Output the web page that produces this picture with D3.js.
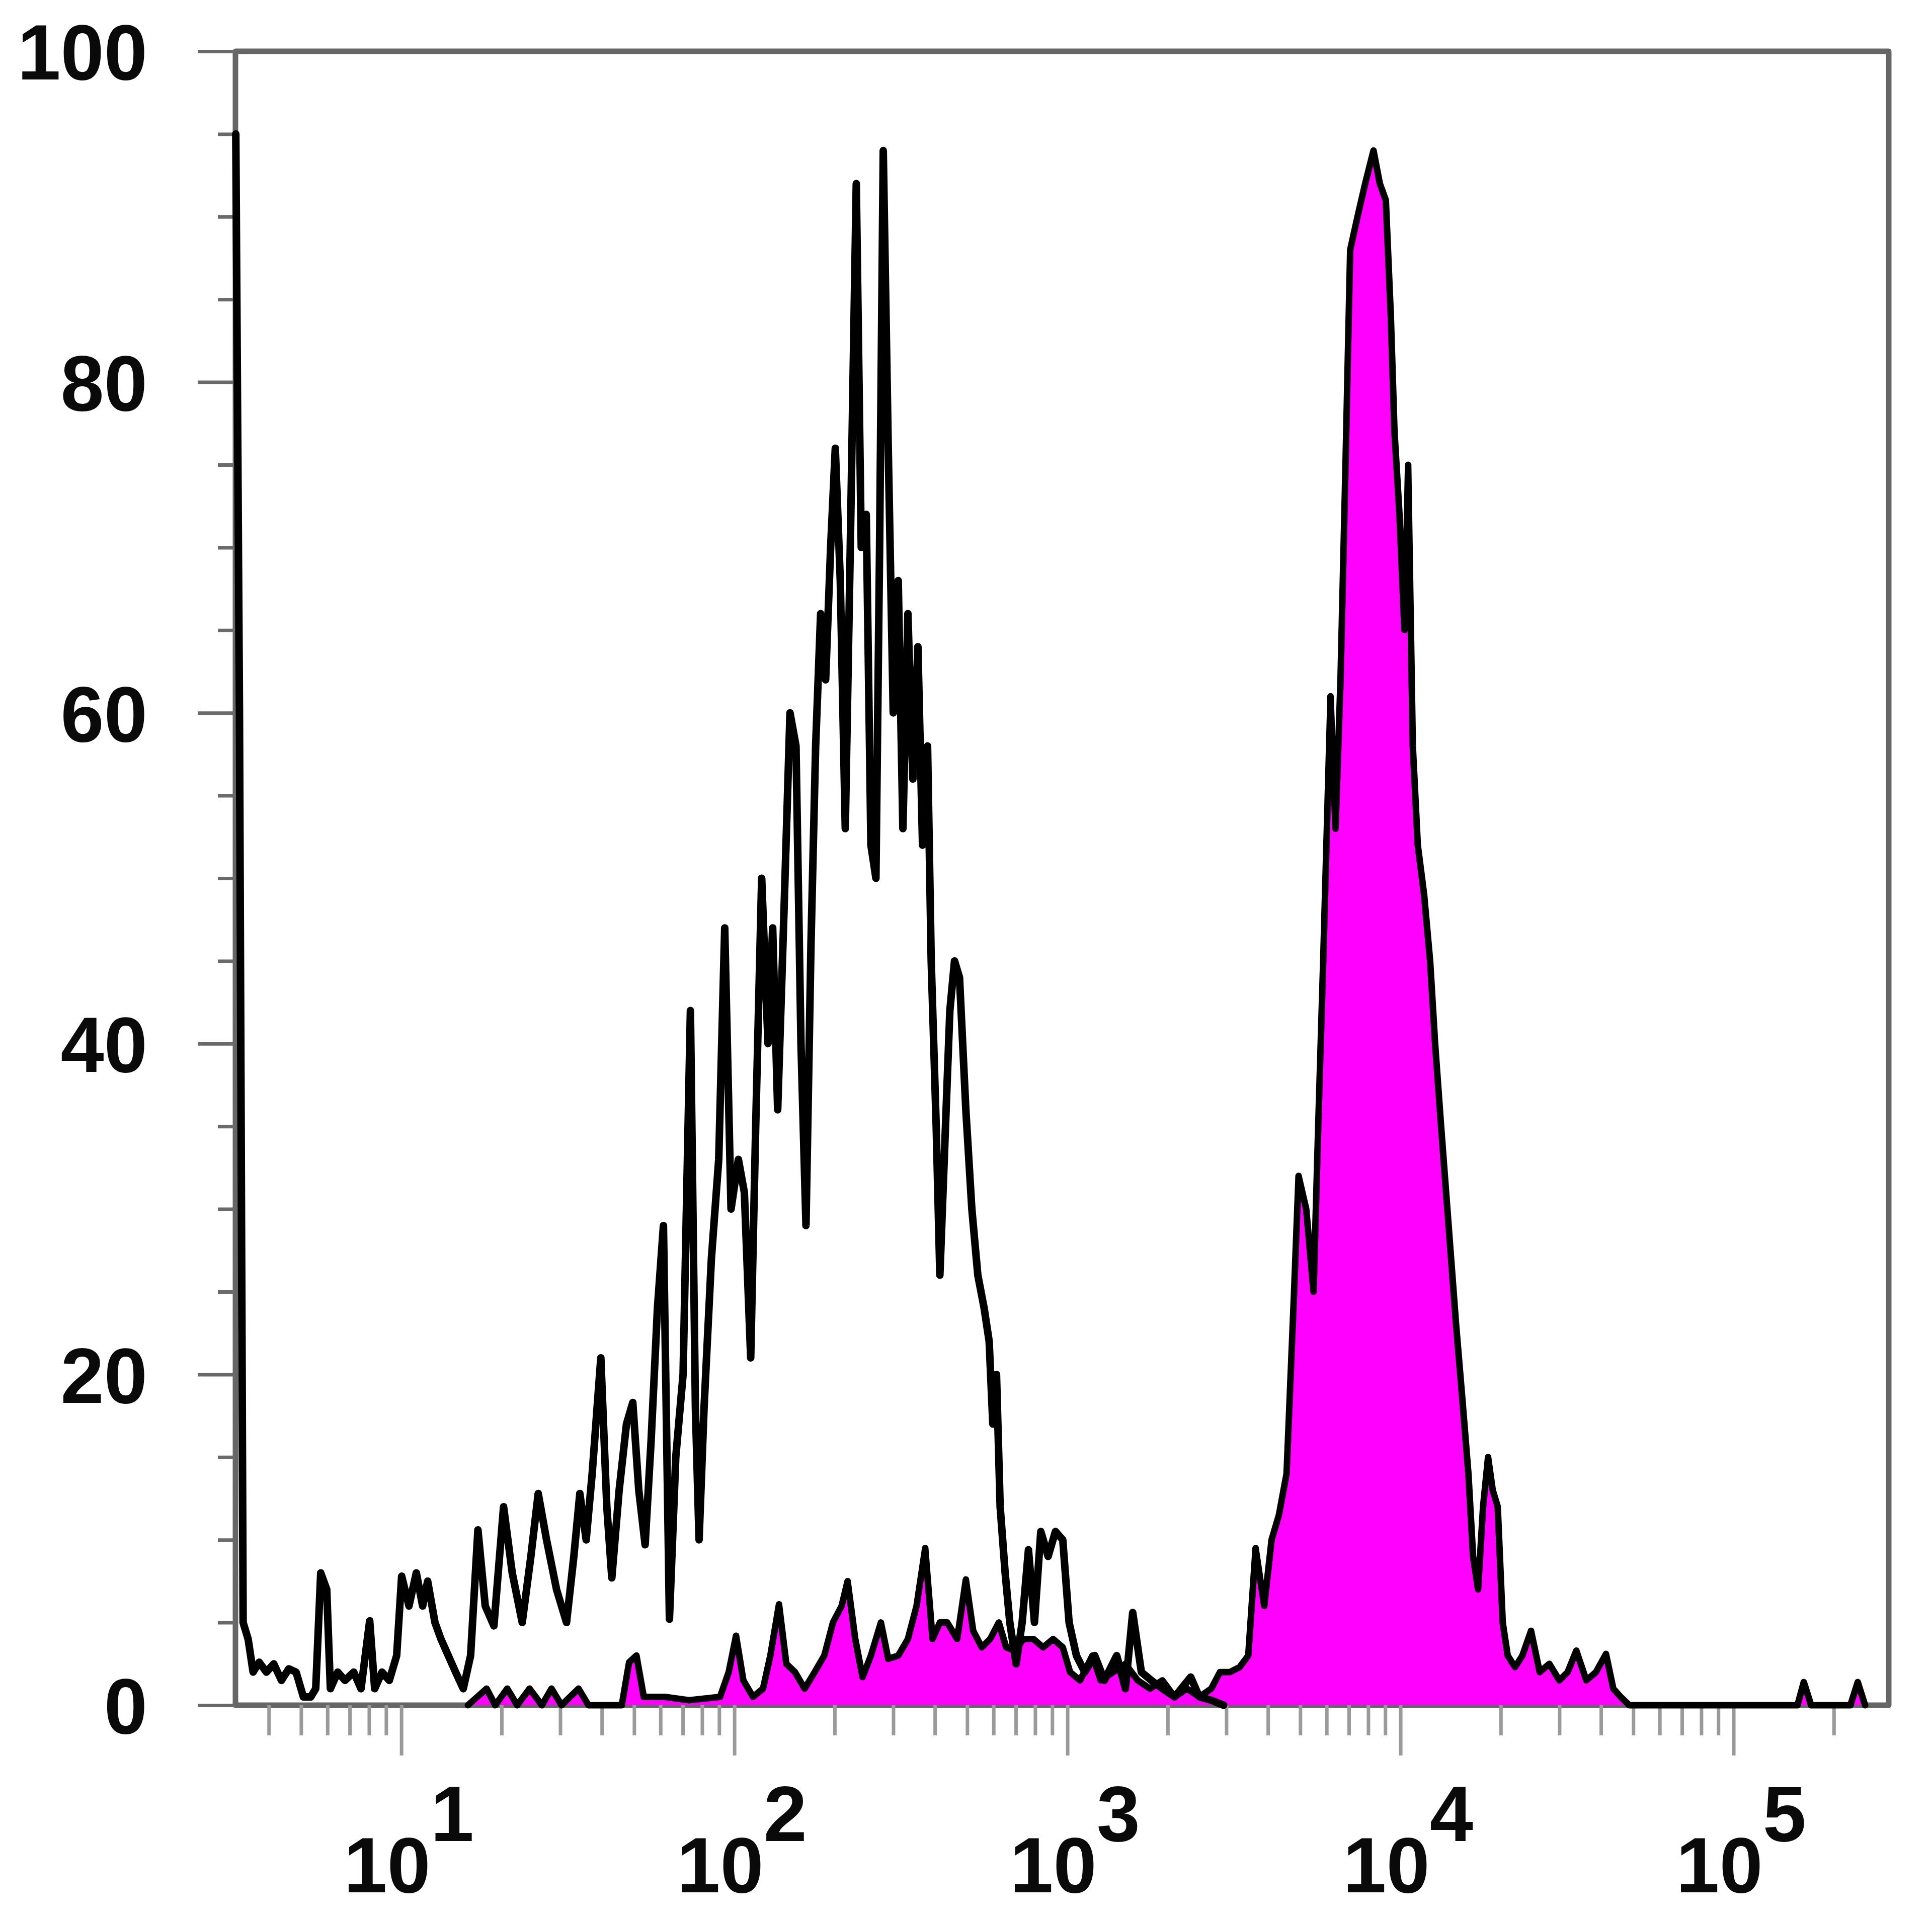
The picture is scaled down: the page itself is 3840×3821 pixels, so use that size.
<!DOCTYPE html>
<html>
<head>
<meta charset="utf-8">
<script src="https://cdn.jsdelivr.net/npm/d3@7"></script>
<style>
  html, body { margin: 0; padding: 0; background: #ffffff; }
  svg { display: block; }
</style>
</head>
<body>
<script>
// ---------------- DATA ----------------
// Control (unfilled black outline): log10 fluorescence, % of max
const controlLogFI = [0.503,0.514,0.525,0.540,0.555,0.573,0.595,0.617,0.640,0.662,0.684,0.706,0.728,0.743,0.758,0.776,0.787,0.809,0.831,0.857,0.879,0.905,0.920,0.942,0.964,0.986,
  1.001,1.023,1.045,1.064,1.079,1.101,1.119,1.141,1.163,1.186,1.208,1.230,1.252,1.278,1.307,1.333,1.363,1.389,1.411,1.436,1.466,1.496,1.518,1.536,1.555,1.573,1.599,1.617,1.632,1.654,1.676,1.695,1.713,1.732,1.750,1.769,1.787,1.805,1.824,1.846,1.868,1.883,1.894,1.909,1.931,1.953,1.971,1.990,
  2.012,2.030,2.049,2.064,2.082,2.101,2.115,2.130,2.149,2.167,2.185,2.200,2.215,2.230,2.244,2.259,2.274,2.289,2.303,2.318,2.333,2.348,2.366,2.381,2.396,2.410,2.425,2.436,2.447,2.462,2.477,2.492,2.506,2.521,2.536,2.551,2.565,2.580,2.591,2.606,2.617,2.632,2.647,2.661,2.676,2.695,2.713,2.731,2.750,2.765,2.776,2.787,2.798,2.813,2.827,2.846,2.864,2.883,2.901,2.920,2.942,2.964,2.986,
  3.005,3.027,3.052,3.082,3.111,3.148,3.174,3.196,3.222,3.252,3.285,3.322,3.370,3.396,3.432,3.469];
const controlCount = [95,60,5,4,2,2.6,2,2.5,1.5,2.2,2,0.5,0.5,1,8,7,1,2,1.5,2,1,5.1,1,2,1.5,3,
  7.8,6,8,6,7.5,5,4,3,2,1,3,10.6,6,4.8,12,8,5,9,12.8,10,7,5,9,12.8,10,14,21,12,7.7,13,17,18.3,13,9.7,16,24,29,5.2,15,20,42,18,10,18,27,33,47,30,
  33,31,21,35,50,40,47,36,48,60,58,40,29,46,58,66,62,70,76,68,53,70,92,70,72,52,50,70,94,76,60,68,53,66,56,64,52,58,45,35,26,34,42,45,44,36,30,26,24,22,17,20,12,8,5,2.5,5,9.4,5,10.5,9,10.5,10,
  5,3,2,3,1.5,3,1,5.6,2,1.5,1,0.5,1.7,0.5,0.3,0];

// Stained sample (magenta filled): log10 fluorescence, % of max
const stainedLogFI = [1.200,1.256,1.282,1.318,1.348,1.385,1.422,1.451,1.481,1.532,1.562,1.662,1.684,1.706,1.728,1.791,1.864,1.957,1.983,
  2.005,2.027,2.056,2.086,2.108,2.134,2.156,2.182,2.211,2.241,2.270,2.296,2.322,2.340,2.363,2.385,2.410,2.440,2.462,2.492,2.521,2.547,2.573,2.595,2.617,2.639,2.669,2.695,2.717,2.743,2.768,2.794,2.816,2.842,2.868,2.898,2.927,2.957,2.986,
  3.008,3.038,3.075,3.100,3.137,3.174,3.211,3.248,3.285,3.322,3.359,3.396,3.432,3.458,3.488,3.517,3.543,3.565,3.591,3.613,3.635,3.658,3.680,3.694,3.717,3.739,3.753,3.768,3.790,3.805,3.820,3.835,3.849,3.871,3.894,3.919,3.938,3.956,3.971,3.982,3.997,
  4.012,4.023,4.037,4.052,4.071,4.089,4.104,4.122,4.137,4.152,4.167,4.185,4.204,4.218,4.233,4.248,4.263,4.277,4.292,4.307,4.322,4.344,4.366,4.392,4.418,4.447,4.477,4.502,4.528,4.558,4.587,4.617,4.639,4.661,4.687,
  5.192,5.211,5.233,5.351,5.373,5.395];
const stainedCount = [0,1,0,1,0,1,0,1,0,1,0,0,2.6,3,0.5,0.5,0.3,0.5,2,
  4.2,1.5,0.5,1,3,6.1,2.5,2,1,2,3,5,6,7.5,4,1.7,3,5,2.8,3,4,6,9.5,4,5,5,4,7.6,4.5,3.5,4,5,3.5,3.3,4,4,3.5,4,3.5,
  2,1.5,3,1.5,2,2.5,1.5,1,1.5,0.5,1,0.5,1,2,2,2.3,3,9.5,6,10,11.5,14,24.7,32,30,25,35,45,61,53,62,75,88,90,92,94,92,91,84,77,72,
  65,75,58,52,49,45,40,35,31,27,23,18.7,14,9,7,12,15,13,12,5,3,2.3,3,4.5,2,2.5,1.5,2,3.3,1.5,2,3.1,1,0.5,0,
  0,1.4,0,0,1.4,0];

// Axis ticks
const yTicks = [0, 20, 40, 60, 80, 100];
const xDecades = [1, 2, 3, 4, 5];
const xBaseLabel = "10";

(function () {
  // ---------------- LAYOUT ----------------
  const W = 3840, H = 3821;
  const pL = 468, pR = 3754, pT = 102, pB = 3390;

  const svg = d3.select("body").append("svg")
    .attr("width", W).attr("height", H)
    .attr("viewBox", `0 0 ${W} ${H}`);

  svg.append("rect").attr("width", W).attr("height", H).attr("fill", "#ffffff");

  const x = d3.scaleLog()
    .domain([Math.pow(10, 0.502), Math.pow(10, 5.466)])
    .range([pL, pR]);
  const y = d3.scaleLinear().domain([0, 100]).range([pB, pT]);

  const fontFamily = "'Liberation Sans', Arial, Helvetica, sans-serif";

  // Frame
  svg.append("rect")
    .attr("x", pL).attr("y", pT)
    .attr("width", pR - pL).attr("height", pB - pT)
    .attr("fill", "none").attr("stroke", "#666666").attr("stroke-width", 11)
    .attr("stroke-linejoin", "round");

  // Y axis: minor + major ticks
  const yMinor = d3.range(5, 100, 5).filter(v => v % 20 !== 0);
  const gyMinor = svg.append("g").attr("transform", `translate(${pL},0)`)
    .call(d3.axisLeft(y).tickValues(yMinor).tickSize(35).tickFormat(""));
  const gyMajor = svg.append("g").attr("transform", `translate(${pL},0)`)
    .call(d3.axisLeft(y).tickValues(yTicks).tickSize(75).tickPadding(100).tickFormat(d3.format("d")));
  [gyMinor, gyMajor].forEach(g => {
    g.select(".domain").remove();
    g.selectAll(".tick line").attr("stroke", "#6a6a6a").attr("stroke-width", 7);
  });
  gyMajor.selectAll(".tick text")
    .attr("font-family", fontFamily).attr("font-weight", "bold")
    .attr("font-size", 155).attr("fill", "#0a0a0a")
    .attr("dy", "0.36em");

  // X axis: minor + major ticks
  const xMinorVals = [];
  [0, 1, 2, 3, 4, 5].forEach(e => {
    [2, 3, 4, 5, 6, 7, 8, 9].forEach(k => {
      const v = k * Math.pow(10, e);
      if (v > x.domain()[0] && v < x.domain()[1]) xMinorVals.push(v);
    });
  });
  const gxMinor = svg.append("g").attr("transform", `translate(0,${pB})`)
    .call(d3.axisBottom(x).tickValues(xMinorVals).tickSize(60).tickFormat(""));
  const gxMajor = svg.append("g").attr("transform", `translate(0,${pB})`)
    .call(d3.axisBottom(x).tickValues(xDecades.map(e => Math.pow(10, e))).tickSize(100).tickFormat(""));
  [gxMinor, gxMajor].forEach(g => {
    g.select(".domain").remove();
    g.selectAll(".tick line").attr("stroke", "#9a9a9a").attr("stroke-width", 7);
  });

  // X labels 10^n
  const xl = svg.append("g");
  xDecades.forEach(e => {
    const t = xl.append("text")
      .attr("x", x(Math.pow(10, e)) + 15)
      .attr("y", 3762)
      .attr("text-anchor", "middle")
      .attr("font-family", fontFamily).attr("font-weight", "bold")
      .attr("font-size", 155).attr("fill", "#0a0a0a");
    t.append("tspan").text(xBaseLabel);
    t.append("tspan").attr("dy", -102).text(String(e));
  });

  // ---------------- DATA MARKS ----------------
  const control = controlLogFI.map((l, i) => ({ l, c: controlCount[i] }));
  const stained = stainedLogFI.map((l, i) => ({ l, c: stainedCount[i] }));

  const area = d3.area()
    .x(d => x(Math.pow(10, d.l)))
    .y0(y(0))
    .y1(d => y(d.c));
  const line = d3.line()
    .x(d => x(Math.pow(10, d.l)))
    .y(d => y(d.c));

  svg.append("path").datum(stained)
    .attr("d", area)
    .attr("fill", "#ff00ff");

  svg.append("path").datum(control)
    .attr("d", line)
    .attr("fill", "none").attr("stroke", "#000000")
    .attr("stroke-width", 15).attr("stroke-linejoin", "round").attr("stroke-linecap", "round");

  svg.append("path").datum(stained)
    .attr("d", line)
    .attr("fill", "none").attr("stroke", "#000000")
    .attr("stroke-width", 13).attr("stroke-linejoin", "round").attr("stroke-linecap", "round");
})();
</script>
</body>
</html>
